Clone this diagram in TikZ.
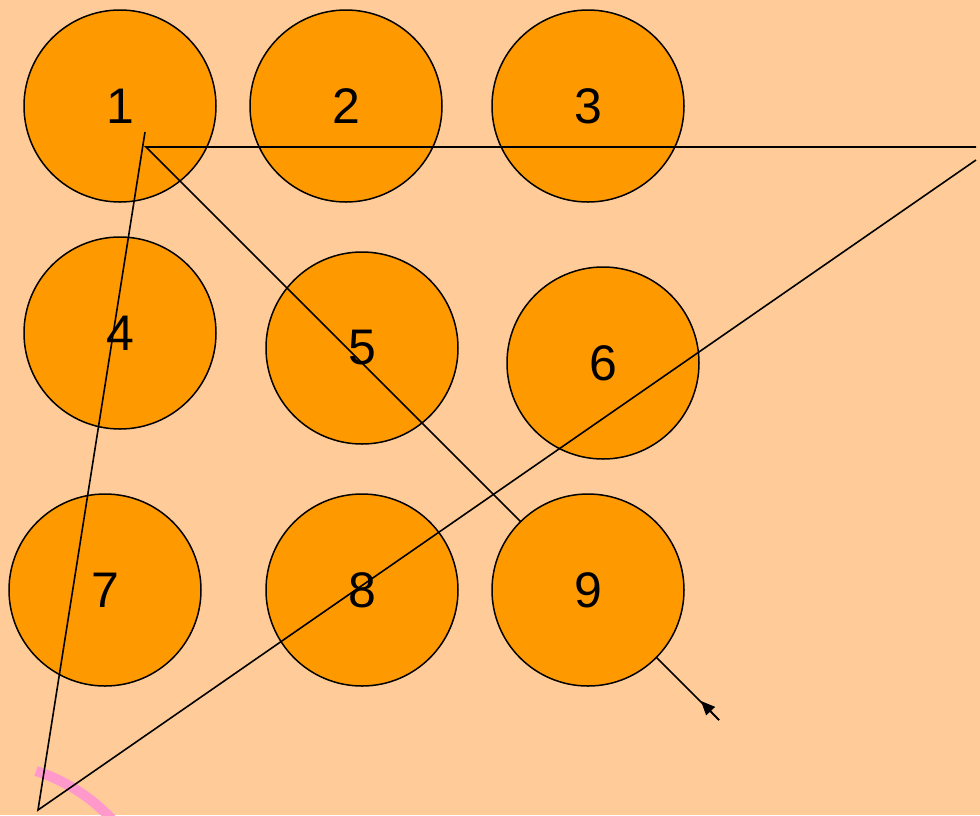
\documentclass[tikz,border=0pt]{standalone}
\usepackage{fontspec}
\setmainfont{Liberation Sans}
\usetikzlibrary{arrows.meta}
\definecolor{bg}{HTML}{FFCC99}
\definecolor{ball}{HTML}{FF9900}
\definecolor{pinkarc}{HTML}{FF99CC}
\begin{document}
\begin{tikzpicture}[x=1pt,y=-1pt,
  ballnode/.style={circle,draw=black,line width=1.5pt,fill=ball,minimum size=192pt,inner sep=0pt,
    font=\fontsize{50}{60}\selectfont},
  stroke/.style={line width=1.6pt,black}]
\fill[bg] (0,0) rectangle (980,815);
\useasboundingbox (0,0) rectangle (980,815);
\draw[pinkarc,line width=10pt] (36,771) arc[start angle=-72,end angle=-38,radius=180];
\node[ballnode] (n1) at (120,106) {1};
\node[ballnode] (n2) at (346,106) {2};
\node[ballnode] (n3) at (588,106) {3};
\node[ballnode] (n4) at (120,333) {4};
\node[ballnode] (n5) at (362,348) {5};
\node[ballnode] (n6) at (603,363) {6};
\node[ballnode] (n7) at (105,590) {7};
\node[ballnode] (n8) at (362,590) {8};
\coordinate (a) at (145,132);
\coordinate (b) at (38,810);
\coordinate (c) at (976,160);
\coordinate (d) at (976,147);
\coordinate (e) at (146,147);
\coordinate (f) at (719,720);
\coordinate (t) at (701,701);
\draw[stroke] (a) -- (b) -- (c);
\draw[stroke] (d) -- (e) -- (f);
\node[ballnode] (n9) at (588,590) {9};
\draw[stroke,-{Triangle[length=14pt,width=12pt]}] (f) -- (t);
\end{tikzpicture}
\end{document}
